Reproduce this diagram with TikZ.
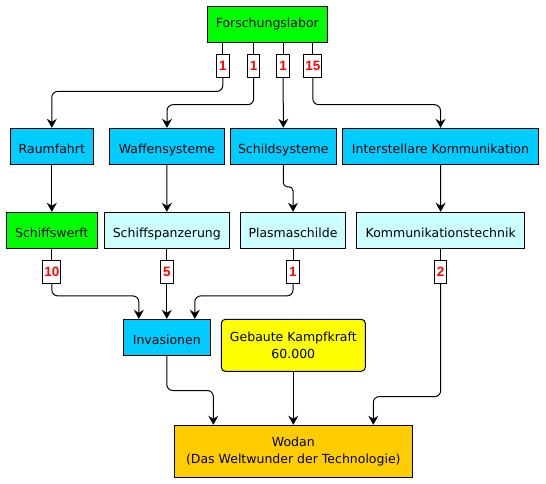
\documentclass[tikz,border=0pt]{standalone}
\usepackage{fontspec}
\setmainfont{DejaVu Sans}
\newfontfamily\numfont{Liberation Sans}
\usetikzlibrary{arrows.meta}

\definecolor{labgreen}{HTML}{00FF00}
\definecolor{techblue}{HTML}{00CCFF}
\definecolor{techpale}{HTML}{CCFFFF}
\definecolor{kampfyellow}{HTML}{FFFF00}
\definecolor{wunderorange}{HTML}{FFCC00}
\definecolor{numred}{HTML}{FF0000}

\begin{document}
\begin{tikzpicture}[x=1pt, y=-1pt,
    every node/.style={draw, line width=1pt, inner sep=2pt, align=center,
        font=\fontsize{12.5}{17.5}\selectfont},
    row/.style={minimum height=36pt, text height=13.5pt, text depth=0pt},
    num/.style={fill=white, text=numred, font=\numfont\bfseries\fontsize{13.5}{14}\selectfont,
        minimum width=12.5pt, minimum height=23pt, inner sep=1.5pt},
    link/.style={line width=1pt, rounded corners=6pt},
    arr/.style={link, -{Stealth[length=9pt, width=10pt, inset=3pt]}}]
    \useasboundingbox (0,0) rectangle (546,484);

    \node[fill=labgreen, minimum width=120pt, minimum height=36.7pt] (fl) at (267.3, 24.4) {Forschungslabor};

    \node[fill=techblue, row, minimum width=83pt]    (raum)   at (51.8, 146.3)  {Raumfahrt};
    \node[fill=techblue, row, minimum width=114.6pt] (waffen) at (167, 146.3)   {Waffensysteme};
    \node[fill=techblue, row, minimum width=106pt]   (schild) at (283.3, 146.3) {Schildsysteme};
    \node[fill=techblue, row, minimum width=196.4pt] (inter)  at (440.5, 146.3) {Interstellare Kommunikation};

    \node[fill=labgreen, row, minimum width=91pt]    (werft)  at (51.8, 230.3)  {Schiffswerft};
    \node[fill=techpale, row, minimum width=125pt]   (panzer) at (166.8, 230.3) {Schiffspanzerung};
    \node[fill=techpale, row, minimum width=104.6pt] (plasma) at (293, 230.3)   {Plasmaschilde};
    \node[fill=techpale, row, minimum width=168pt]   (komm)   at (440.7, 230.3) {Kommunikationstechnik};

    \node[fill=techblue, row, minimum width=87pt] (inv) at (166.8, 337.3) {Invasionen};
    \node[fill=kampfyellow, rounded corners=4pt, minimum width=144pt, minimum height=52pt] (kampf) at (293.3, 345.3) {Gebaute Kampfkraft\\60.000};
    \node[fill=wunderorange, minimum width=238pt, minimum height=52.4pt] (wodan) at (293.3, 451.5) {Wodan\\(Das Weltwunder der Technologie)};

    % numbers on the links
    \node[num] (n1) at (222.8, 65.7) {1};
    \node[num] (n2) at (253.7, 65.7) {1};
    \node[num] (n3) at (283.2, 65.7) {1};
    \node[num] (n4) at (312.8, 65.7) {15};
    \node[num] (m1) at (51.8, 272.2)  {10};
    \node[num] (m2) at (166.8, 272.2) {5};
    \node[num] (m3) at (293, 272.2)   {1};
    \node[num] (m4) at (440.7, 272.2) {2};

    \foreach \n in {n1,n2,n3,n4}
        \draw[link] (fl.south -| \n) -- (\n);
    \draw[arr] (n1.south) -- ++(0,13.7) -| (raum.north);
    \draw[arr] (n2.south) -- ++(0,27) -| (waffen.north);
    \draw[arr] (n3) -- (schild);
    \draw[arr] (n4.south) -- ++(0,27) -| (inter.north);

    \draw[arr] (raum) -- (werft);
    \draw[arr] (waffen) -- (panzer);
    \draw[arr, rounded corners=4pt] (schild.south) -- ++(0,22) -| (plasma.north);
    \draw[arr] (inter) -- (komm);

    \draw[link] (werft) -- (m1);
    \draw[link] (panzer) -- (m2);
    \draw[link] (plasma) -- (m3);
    \draw[link] (komm) -- (m4);

    \draw[arr] (m1.south) -- ++(0,11.7) -| ([xshift=-28pt]inv.north);
    \draw[arr] (m2) -- (inv);
    \draw[arr] (m3.south) -- ++(0,11.7) -| ([xshift=28pt]inv.north);

    \draw[arr] (inv.south) -- ++(0,34.7) -| ([xshift=-80pt]wodan.north);
    \draw[arr] (kampf) -- (wodan);
    \draw[arr] (m4.south) -- ++(0,112.4) -| ([xshift=80pt]wodan.north);
\end{tikzpicture}
\end{document}
